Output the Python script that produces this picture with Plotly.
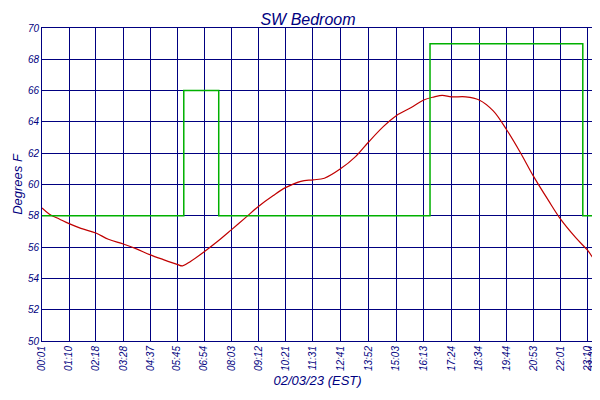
import plotly.graph_objects as go

# temperature readings (minutes after midnight, degrees F)
temp_min = [1, 20, 45, 70, 100, 138, 170, 208, 240, 277, 310, 345, 359, 380, 414, 450, 483, 520,
            552, 590, 621, 660, 691, 720, 761, 800, 832, 870, 903, 940, 973, 1000, 1020, 1044, 1080,
            1114, 1150, 1184, 1220, 1253, 1290, 1321, 1360, 1390, 1404]
temp_val = [58.5, 58.1, 57.8, 57.5, 57.2, 56.9, 56.5, 56.2, 55.9, 55.5, 55.2, 54.9, 54.8, 55.1, 55.7,
            56.4, 57.1, 57.9, 58.6, 59.3, 59.8, 60.2, 60.3, 60.4, 61.0, 61.8, 62.7, 63.7, 64.4, 64.9,
            65.4, 65.6, 65.7, 65.6, 65.6, 65.4, 64.7, 63.5, 62.0, 60.5, 59.0, 57.8, 56.6, 55.8, 55.3]

setback_min = [1, 359, 362, 451, 986, 989, 1378, 1404]
setback_val = [58, 58, 66, 58, 58, 69, 58, 58]

tick_labels = ["00:01", "01:10", "02:18", "03:28", "04:37", "05:45", "06:54", "08:03", "09:12",
               "10:21", "11:31", "12:41", "13:52", "15:03", "16:13", "17:24", "18:34", "19:44",
               "20:53", "22:01", "23:10", "23:24"]


def to_min(s):
    h, m = s.split(":")
    return int(h) * 60 + int(m)


tick_vals = [to_min(s) for s in tick_labels]

navy = "#000080"
fnt = dict(family="Liberation Sans", color=navy, style="italic")

fig = go.Figure()
fig.add_trace(go.Scatter(x=temp_min, y=temp_val, mode="lines", name="SW Bedroom",
                         line=dict(color="#c00000", width=1.2, shape="spline")))
fig.add_trace(go.Scatter(x=setback_min, y=setback_val, mode="lines", name="Setback",
                         line=dict(color="#00b000", width=1.5, shape="hv")))
# invisible trace for right axis
fig.add_trace(go.Scatter(x=[1], y=[50], yaxis="y2", showlegend=False, mode="markers",
                         marker=dict(opacity=0)))

fig.update_layout(
    width=600, height=400,
    margin=dict(l=34, r=15, t=20, b=67, autoexpand=False),
    paper_bgcolor="white", plot_bgcolor="white",
    title=dict(text="SW Bedroom", x=0.5, y=0.985, yanchor="top",
               font=dict(size=16, **fnt)),
    xaxis=dict(range=[1, 1404], tickvals=tick_vals, ticktext=tick_labels, tickangle=-90,
               showgrid=True, gridcolor=navy, gridwidth=1, showline=True, linecolor=navy,
               mirror=True, zeroline=False, automargin=False, tickfont=dict(size=10, **fnt),
               title=dict(text="02/03/23 (EST)", font=dict(size=13, **fnt), standoff=4)),
    yaxis=dict(range=[50, 70], dtick=2, showgrid=True, gridcolor=navy, showline=True,
               linecolor=navy, zeroline=False, automargin=False, tickfont=dict(size=10, **fnt),
               title=dict(text="Degrees F", font=dict(size=13, **fnt), standoff=2)),
    yaxis2=dict(range=[50, 70], dtick=2, overlaying="y", side="right", showgrid=False,
                zeroline=False, automargin=False, tickfont=dict(size=10, **fnt)),
    legend=dict(orientation="h", x=0.5, xanchor="center", y=-0.16, yanchor="top",
                font=dict(size=11, **fnt)),
)

fig.write_html("out.html")
